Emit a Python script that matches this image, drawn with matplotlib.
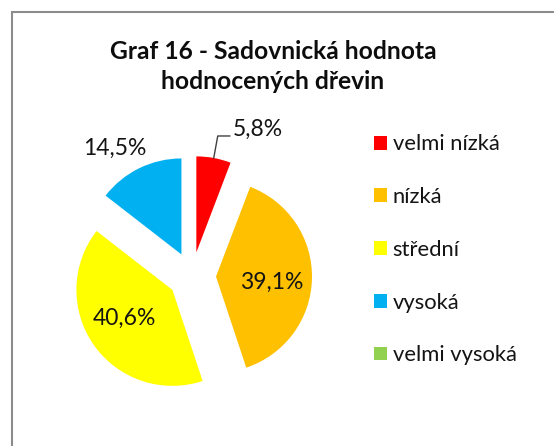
import matplotlib
matplotlib.use('Agg')
import matplotlib.pyplot as plt
import numpy as np
from matplotlib.patches import Patch, Rectangle

plt.rcParams['font.family'] = ['Lato', 'DejaVu Sans']

# data
categories = ['velmi nízká', 'nízká', 'střední', 'vysoká', 'velmi vysoká']
shares = [5.8, 39.1, 40.6, 14.5, 0.0]
colors = ['#FF0000', '#FFC000', '#FFFF00', '#00B0F0', '#92D050']
title = 'Graf 16 - Sadovnická hodnota\nhodnocených dřevin'

W, H = 554, 446
fig = plt.figure(figsize=(W / 100, H / 100), dpi=100)
ax = fig.add_axes([0, 0, 1, 1])

# pie geometry in pixel units (y up)
cx, cy, r = 192, H - 276, 96
expl = 24  # absolute offset of every slice
explode = [expl] * len(shares)

wedges, _ = ax.pie(shares, colors=colors, startangle=90, counterclock=False,
                   center=(cx, cy), radius=r, explode=explode,
                   wedgeprops=dict(linewidth=0))

# data labels
fs = 16.5
tc = '#141414'
total = sum(shares)
ang = 90.0
for i, v in enumerate(shares):
    span = v / total * 360
    mid = np.deg2rad(ang - span / 2)
    ang -= span
    if v == 0:
        continue
    txt = ('%.1f%%' % v).replace('.', ',')
    ox = cx + expl * np.cos(mid)
    oy = cy + expl * np.sin(mid)
    if v > 20:
        d = 0.58 * r
        ax.text(ox + d * np.cos(mid - 0.08), oy + d * np.sin(mid - 0.08), txt,
                ha='center', va='center', fontsize=fs, color=tc)
    elif i == 0:
        # outside label with leader line
        x0, y0 = ox + r * np.cos(mid), oy + r * np.sin(mid)
        ax.plot([x0, x0 + 4, x0 + 16], [y0, y0 + 22, y0 + 22], color='#404040', lw=1.0)
        ax.text(x0 + 19, y0 + 29, txt, ha='left', va='center', fontsize=fs, color=tc)
    else:
        d = 1.25 * r
        ax.text(ox + d * np.cos(mid) - 14, oy + d * np.sin(mid) - 2, txt,
                ha='center', va='center', fontsize=fs, color=tc)

ax.set_xlim(0, W)
ax.set_ylim(0, H)
ax.set_aspect('equal')
ax.axis('off')

# chart border
ax.add_patch(Rectangle((11.5, -20), W + 20, H - 11.5 + 20, fill=False, edgecolor='#8c8c8c',
                       lw=1.5, clip_on=False))

fig.text(273 / W, 1 - 66.5 / H, title, ha='center', va='center', fontsize=17.7,
         fontweight='bold', color='#0d0d0d', linespacing=1.34)

handles = [Patch(facecolor=c, edgecolor='none') for c in colors]
ax.legend(handles, categories, loc='upper left', bbox_to_anchor=(363 / W, 1 - 123.5 / H),
          frameon=False, fontsize=15.8, handlelength=0.6, handleheight=0.6, handletextpad=0.25,
          labelspacing=1.49, borderpad=0, labelcolor=tc)

fig.savefig('out.png', dpi=100)
